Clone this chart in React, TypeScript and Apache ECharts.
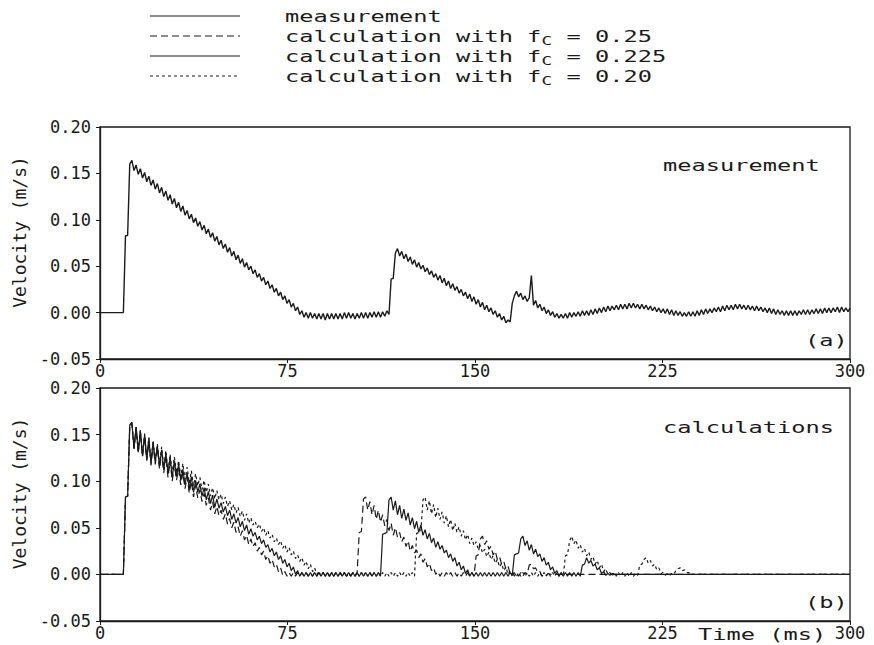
import React, { useEffect, useRef } from "react";
import * as echarts from "echarts";

// Sampling step of the velocity records (ms) and the end of the record.
const STEP_MS = 0.85;
const END_MS = 300;

// Axis ranges / ticks
const TIME_MIN = 0;
const TIME_MAX = 300;
const TIME_INTERVAL = 75;
const VEL_MIN = -0.05;
const VEL_MAX = 0.2;
const VEL_INTERVAL = 0.05;

// Measured velocity (m/s), one value every STEP_MS from t = 0.
const measurement = [
  0, 0, 0, 0, 0, 0, 0, 0, 0, 0,
  0, 0, 0.083, 0.083, 0.160, 0.164, 0.153, 0.159, 0.149, 0.155,
  0.145, 0.151, 0.141, 0.147, 0.137, 0.143, 0.133, 0.139, 0.129, 0.135,
  0.125, 0.131, 0.121, 0.127, 0.117, 0.123, 0.113, 0.119, 0.109, 0.115,
  0.105, 0.110, 0.101, 0.106, 0.097, 0.102, 0.093, 0.098, 0.089, 0.094,
  0.085, 0.090, 0.081, 0.086, 0.077, 0.082, 0.073, 0.078, 0.069, 0.074,
  0.065, 0.070, 0.061, 0.066, 0.057, 0.062, 0.053, 0.058, 0.049, 0.054,
  0.046, 0.050, 0.042, 0.046, 0.038, 0.042, 0.034, 0.038, 0.030, 0.034,
  0.026, 0.030, 0.022, 0.026, 0.018, 0.022, 0.014, 0.018, 0.010, 0.014,
  0.006, 0.010, 0.002, 0.006, -0.002, 0.002, -0.005, 0.000, -0.006, 0.000,
  -0.006, -0.001, -0.007, -0.001, -0.007, -0.001, -0.008, -0.001, -0.007, -0.001,
  -0.007, -0.001, -0.007, -0.001, -0.007, 0.000, -0.006, 0.000, -0.006, -0.001,
  -0.007, -0.001, -0.006, 0.000, -0.006, 0.000, -0.006, 0.000, -0.005, 0.001,
  -0.005, 0.001, -0.005, 0.001, -0.004, 0.002, -0.002, 0.036, 0.037, 0.064,
  0.069, 0.061, 0.066, 0.058, 0.063, 0.055, 0.060, 0.052, 0.057, 0.049,
  0.054, 0.047, 0.051, 0.044, 0.048, 0.041, 0.045, 0.038, 0.042, 0.035,
  0.040, 0.032, 0.037, 0.029, 0.034, 0.026, 0.031, 0.024, 0.028, 0.021,
  0.025, 0.018, 0.022, 0.015, 0.020, 0.012, 0.017, 0.009, 0.014, 0.006,
  0.011, 0.003, 0.008, 0.001, 0.005, -0.002, 0.002, -0.005, -0.001, -0.008,
  -0.004, -0.011, -0.008, -0.010, 0.010, 0.018, 0.023, 0.017, 0.021, 0.014,
  0.018, 0.012, 0.016, 0.040, 0.008, 0.013, 0.005, 0.009, 0.002, 0.006,
  -0.001, 0.003, -0.003, 0.001, -0.005, -0.001, -0.006, -0.002, -0.006, -0.001,
  -0.006, 0.000, -0.005, 0.000, -0.004, 0.001, -0.004, 0.002, -0.003, 0.002,
  -0.003, 0.003, -0.002, 0.004, -0.001, 0.005, 0.000, 0.006, 0.001, 0.007,
  0.002, 0.007, 0.003, 0.008, 0.003, 0.009, 0.004, 0.009, 0.004, 0.010,
  0.005, 0.010, 0.005, 0.009, 0.004, 0.009, 0.004, 0.008, 0.003, 0.007,
  0.002, 0.006, 0.001, 0.005, 0.000, 0.004, -0.001, 0.004, -0.002, 0.003,
  -0.003, 0.002, -0.003, 0.001, -0.004, 0.000, -0.004, 0.001, -0.004, 0.001,
  -0.004, 0.002, -0.003, 0.003, -0.002, 0.004, -0.001, 0.004, 0.000, 0.005,
  0.001, 0.006, 0.001, 0.007, 0.002, 0.008, 0.003, 0.008, 0.003, 0.009,
  0.004, 0.009, 0.004, 0.008, 0.003, 0.008, 0.003, 0.007, 0.002, 0.007,
  0.002, 0.006, 0.001, 0.005, 0.000, 0.005, -0.001, 0.004, -0.002, 0.003,
  -0.002, 0.002, -0.003, 0.002, -0.003, 0.002, -0.003, 0.002, -0.003, 0.002,
  -0.002, 0.003, -0.002, 0.003, -0.002, 0.003, -0.001, 0.004, -0.001, 0.004,
  -0.001, 0.005, 0.000, 0.005, 0.000, 0.005, 0.001, 0.006, 0.000, 0.006,
  0.001, 0.005, 0.001, 0.005,
];

// Calculated velocity, friction coefficient fc = 0.25 (m/s, every STEP_MS).
const calcFc025 = [
  0, 0, 0, 0, 0, 0, 0, 0, 0, 0,
  0, 0, 0.083, 0.084, 0.160, 0.163, 0.135, 0.158, 0.131, 0.153,
  0.126, 0.149, 0.122, 0.144, 0.117, 0.140, 0.118, 0.136, 0.113, 0.131,
  0.109, 0.127, 0.104, 0.122, 0.100, 0.118, 0.101, 0.113, 0.096, 0.109,
  0.092, 0.105, 0.087, 0.100, 0.083, 0.096, 0.082, 0.091, 0.078, 0.087,
  0.074, 0.082, 0.069, 0.078, 0.065, 0.073, 0.063, 0.069, 0.059, 0.065,
  0.054, 0.060, 0.050, 0.056, 0.045, 0.051, 0.041, 0.047, 0.037, 0.042,
  0.032, 0.038, 0.030, 0.034, 0.025, 0.029, 0.021, 0.025, 0.016, 0.020,
  0.012, 0.016, 0.008, 0.011, 0.003, 0.007, -0.001, 0.003, -0.002, 0.002,
  -0.002, 0.002, -0.002, 0.002, -0.002, 0.002, -0.002, 0.002, -0.002, 0.002,
  -0.002, 0.002, -0.002, 0.002, -0.002, 0.002, -0.002, 0.002, -0.002, 0.002,
  -0.002, 0.002, -0.002, 0.002, -0.002, 0.002, -0.002, 0.002, -0.002, 0.002,
  -0.002, 0.002, 0.045, 0.046, 0.081, 0.083, 0.069, 0.078, 0.064, 0.074,
  0.059, 0.069, 0.056, 0.064, 0.052, 0.059, 0.047, 0.055, 0.042, 0.050,
  0.040, 0.045, 0.035, 0.040, 0.030, 0.036, 0.025, 0.031, 0.023, 0.026,
  0.018, 0.022, 0.013, 0.017, 0.008, 0.012, 0.004, 0.007, 0.000, 0.003,
  -0.002, 0.002, -0.002, 0.002, -0.002, 0.002, -0.002, 0.002, -0.002, 0.002,
  -0.002, 0.002, -0.002, 0.002, -0.002, 0.002, -0.002, 0.020, 0.021, 0.038,
  0.041, 0.032, 0.036, 0.027, 0.030, 0.021, 0.025, 0.016, 0.019, 0.011,
  0.014, 0.006, 0.009, 0.001, 0.003, -0.002, 0.002, -0.002, 0.002, -0.002,
  0.002, 0.000, 0.010, 0.011, 0.006, 0.007, 0.002, 0.003, -0.002, 0.001,
  -0.001, 0.001, 0.000,
];

// Calculated velocity, fc = 0.225.
const calcFc0225 = [
  0, 0, 0, 0, 0, 0, 0, 0, 0, 0,
  0, 0, 0.083, 0.084, 0.160, 0.163, 0.135, 0.158, 0.131, 0.154,
  0.127, 0.150, 0.123, 0.146, 0.119, 0.142, 0.120, 0.138, 0.116, 0.134,
  0.112, 0.130, 0.108, 0.126, 0.104, 0.122, 0.105, 0.118, 0.101, 0.113,
  0.096, 0.109, 0.092, 0.105, 0.088, 0.101, 0.088, 0.097, 0.084, 0.093,
  0.080, 0.089, 0.076, 0.085, 0.072, 0.081, 0.071, 0.077, 0.067, 0.073,
  0.063, 0.069, 0.059, 0.065, 0.055, 0.061, 0.051, 0.057, 0.047, 0.053,
  0.043, 0.049, 0.041, 0.045, 0.037, 0.041, 0.033, 0.037, 0.029, 0.032,
  0.024, 0.028, 0.020, 0.024, 0.016, 0.020, 0.012, 0.016, 0.008, 0.012,
  0.004, 0.008, 0.000, 0.004, -0.002, 0.002, -0.002, 0.002, -0.002, 0.002,
  -0.002, 0.002, -0.002, 0.002, -0.002, 0.002, -0.002, 0.002, -0.002, 0.002,
  -0.002, 0.002, -0.002, 0.002, -0.002, 0.002, -0.002, 0.002, -0.002, 0.002,
  -0.002, 0.002, -0.002, 0.002, -0.002, 0.002, -0.002, 0.002, -0.002, 0.002,
  -0.002, 0.002, -0.002, 0.043, 0.044, 0.045, 0.080, 0.083, 0.069, 0.079,
  0.064, 0.074, 0.060, 0.070, 0.058, 0.066, 0.053, 0.061, 0.049, 0.057,
  0.045, 0.053, 0.042, 0.048, 0.038, 0.044, 0.034, 0.039, 0.029, 0.035,
  0.027, 0.031, 0.023, 0.026, 0.018, 0.022, 0.014, 0.018, 0.009, 0.013,
  0.005, 0.009, 0.001, 0.005, -0.002, 0.002, -0.002, 0.002, -0.002, 0.002,
  -0.002, 0.002, -0.002, 0.002, -0.002, 0.002, -0.002, 0.002, -0.002, 0.002,
  -0.002, 0.002, -0.002, 0.002, -0.001, 0.021, 0.022, 0.023, 0.038, 0.041,
  0.031, 0.036, 0.026, 0.032, 0.022, 0.027, 0.019, 0.022, 0.014, 0.018,
  0.010, 0.013, 0.005, 0.008, 0.001, 0.004, -0.002, 0.002, -0.002, 0.002,
  -0.002, 0.002, -0.002, 0.002, -0.002, 0.002, -0.002, 0.010, 0.011, 0.018,
  0.012, 0.015, 0.009, 0.011, 0.005, 0.007, 0.001, 0.003, -0.001, 0.001,
  -0.001, 0.001, 0.000,
];

// Calculated velocity, fc = 0.20.
const calcFc020 = [
  0, 0, 0, 0, 0, 0, 0, 0, 0, 0,
  0, 0, 0.083, 0.084, 0.160, 0.163, 0.135, 0.158, 0.131, 0.155,
  0.128, 0.151, 0.124, 0.147, 0.121, 0.144, 0.122, 0.140, 0.118, 0.137,
  0.115, 0.133, 0.111, 0.129, 0.108, 0.126, 0.109, 0.122, 0.105, 0.119,
  0.102, 0.115, 0.098, 0.111, 0.095, 0.108, 0.095, 0.104, 0.091, 0.101,
  0.088, 0.097, 0.084, 0.093, 0.081, 0.090, 0.080, 0.086, 0.076, 0.083,
  0.073, 0.079, 0.069, 0.075, 0.066, 0.072, 0.062, 0.068, 0.058, 0.065,
  0.055, 0.061, 0.053, 0.057, 0.050, 0.054, 0.046, 0.050, 0.042, 0.047,
  0.039, 0.043, 0.035, 0.039, 0.032, 0.036, 0.028, 0.032, 0.024, 0.029,
  0.021, 0.025, 0.017, 0.021, 0.014, 0.018, 0.010, 0.014, 0.006, 0.011,
  0.003, 0.007, 0.000, 0.003, -0.002, 0.002, -0.002, 0.002, -0.002, 0.002,
  -0.002, 0.002, -0.002, 0.002, -0.002, 0.002, -0.002, 0.002, -0.002, 0.002,
  -0.002, 0.002, -0.002, 0.002, -0.002, 0.002, -0.002, 0.002, -0.002, 0.002,
  -0.002, 0.002, -0.002, 0.002, -0.002, 0.002, -0.002, 0.002, -0.002, 0.002,
  -0.002, 0.002, -0.002, 0.002, -0.002, 0.002, -0.002, 0.002, -0.002, 0.044,
  0.045, 0.046, 0.080, 0.083, 0.069, 0.079, 0.065, 0.075, 0.061, 0.071,
  0.059, 0.067, 0.055, 0.063, 0.051, 0.059, 0.047, 0.055, 0.045, 0.051,
  0.041, 0.047, 0.037, 0.043, 0.033, 0.039, 0.031, 0.035, 0.027, 0.031,
  0.023, 0.027, 0.019, 0.024, 0.016, 0.020, 0.012, 0.016, 0.008, 0.012,
  0.004, 0.008, 0.000, 0.004, -0.002, 0.002, -0.002, 0.002, -0.002, 0.002,
  -0.002, 0.002, -0.002, 0.002, -0.002, 0.002, -0.002, 0.002, -0.002, 0.002,
  -0.002, 0.002, -0.002, 0.002, -0.002, 0.002, -0.002, 0.002, -0.002, 0.020,
  0.021, 0.036, 0.041, 0.033, 0.037, 0.028, 0.032, 0.024, 0.028, 0.020,
  0.024, 0.016, 0.019, 0.011, 0.015, 0.007, 0.011, 0.003, 0.006, 0.000,
  0.002, -0.002, 0.002, -0.002, 0.002, -0.002, 0.002, -0.002, 0.002, -0.002,
  0.002, -0.002, 0.001, -0.001, 0.010, 0.011, 0.016, 0.018, 0.012, 0.015,
  0.009, 0.011, 0.005, 0.007, 0.001, 0.002, -0.001, 0.001, -0.001, 0.001,
  0.000, 0.004, 0.006, 0.007, 0.004, 0.005, 0.002, 0.002, 0.000,
];

// Legend entries: label (rich text) and dash pattern of each curve.
const legendLabels = [
  "measurement",
  "calculation with f{sub|C} = 0.25",
  "calculation with f{sub|C} = 0.225",
  "calculation with f{sub|C} = 0.20",
];
const SOLID: number[] | null = null;
const LONG_DASH = [7, 4];
const SHORT_DASH = [3, 3];
const legendDashes = [SOLID, LONG_DASH, SOLID, SHORT_DASH];

const INK = "#1a1a1a";
const MONO = '"DejaVu Sans Mono", "Liberation Mono", monospace';

const toPoints = (vals: number[]) =>
  vals.map((v, i) => [Math.round(i * STEP_MS * 100) / 100, v]);

// Calculated curves stay at rest until the end of the record.
const withRest = (vals: number[]) => [...toPoints(vals), [END_MS, 0]];

const WIDE = 1.48; // horizontal stretch of the plotter lettering

function wideText(x: number, y: number, text: string, extra: any = {}) {
  return {
    type: "text",
    x,
    y,
    scaleX: WIDE,
    silent: true,
    style: {
      text,
      fill: INK,
      fontFamily: MONO,
      fontSize: 16,
      lineHeight: 22,
      verticalAlign: "middle",
      align: "left",
      rich: {
        sub: {
          fontFamily: MONO,
          fontSize: 12,
          lineHeight: 22,
          verticalAlign: "bottom",
          fill: INK,
        },
      },
      ...extra,
    },
  };
}

function buildOption() {
  const legendRowsY = [16, 36, 56, 76];
  const legendGraphics: any[] = [];
  legendLabels.forEach((label, k) => {
    const y = legendRowsY[k];
    legendGraphics.push({
      type: "line",
      silent: true,
      shape: { x1: 150, y1: y, x2: 240, y2: y },
      style: {
        stroke: INK,
        lineWidth: 1.2,
        lineDash: legendDashes[k] || undefined,
      },
    });
    legendGraphics.push(wideText(285, y, label));
  });

  const xAxisBase = {
    type: "value",
    min: TIME_MIN,
    max: TIME_MAX,
    interval: TIME_INTERVAL,
    axisLine: { show: true, onZero: false, lineStyle: { color: INK, width: 1.3 } },
    axisTick: { show: true, length: 4, lineStyle: { color: INK } },
    splitLine: { show: false },
    axisLabel: {
      margin: 3,
      color: INK,
      fontFamily: MONO,
      fontSize: 17,
    },
  };

  const yAxisBase = {
    type: "value",
    min: VEL_MIN,
    max: VEL_MAX,
    interval: VEL_INTERVAL,
    axisLine: { show: true, onZero: false, lineStyle: { color: INK, width: 1.3 } },
    axisTick: { show: true, length: 4, lineStyle: { color: INK } },
    splitLine: { show: false },
    axisLabel: {
      margin: 9,
      color: INK,
      fontFamily: MONO,
      fontSize: 17,
      formatter: (v: number) => v.toFixed(2),
    },
    name: "Velocity (m/s)",
    nameLocation: "middle",
    nameGap: 64,
    nameTextStyle: {
      color: INK,
      fontFamily: MONO,
      fontSize: 18,
      padding: [0, 0, 0, 22],
    },
  };

  const lineBase = {
    type: "line",
    showSymbol: false,
    symbol: "none",
    silent: true,
    clip: true,
  };

  return {
    animation: false,
    backgroundColor: "#ffffff",
    grid: [
      {
        left: 100,
        top: 127,
        width: 750,
        height: 232,
        show: true,
        borderColor: INK,
        borderWidth: 1.3,
        backgroundColor: "transparent",
      },
      {
        left: 100,
        top: 388,
        width: 750,
        height: 233,
        show: true,
        borderColor: INK,
        borderWidth: 1.3,
        backgroundColor: "transparent",
      },
    ],
    xAxis: [
      { ...xAxisBase, gridIndex: 0 },
      { ...xAxisBase, gridIndex: 1 },
    ],
    yAxis: [
      { ...yAxisBase, gridIndex: 0 },
      { ...yAxisBase, gridIndex: 1 },
    ],
    series: [
      {
        ...lineBase,
        name: "measurement",
        xAxisIndex: 0,
        yAxisIndex: 0,
        data: toPoints(measurement),
        lineStyle: { color: INK, width: 1.4 },
      },
      {
        ...lineBase,
        name: "calculation with fc = 0.25",
        xAxisIndex: 1,
        yAxisIndex: 1,
        data: withRest(calcFc025),
        lineStyle: { color: INK, width: 1.2, type: LONG_DASH },
      },
      {
        ...lineBase,
        name: "calculation with fc = 0.20",
        xAxisIndex: 1,
        yAxisIndex: 1,
        data: withRest(calcFc020),
        lineStyle: { color: INK, width: 1.2, type: SHORT_DASH },
      },
      {
        ...lineBase,
        name: "calculation with fc = 0.225",
        xAxisIndex: 1,
        yAxisIndex: 1,
        data: withRest(calcFc0225),
        lineStyle: { color: INK, width: 1.2 },
      },
    ],
    graphic: [
      ...legendGraphics,
      wideText(663, 165, "measurement"),
      wideText(663, 427, "calculations"),
      wideText(805, 340, "(a)"),
      wideText(805, 602, "(b)"),
      // time-axis title, set between the last two tick labels
      wideText(698, 634, "Time (ms)", { fontSize: 16 }),
    ],
  };
}

export default function App() {
  const ref = useRef<HTMLDivElement | null>(null);

  useEffect(() => {
    document.body.style.margin = "0";
    if (!ref.current) return;
    const chart = echarts.init(ref.current, undefined, { renderer: "svg" });
    chart.setOption(buildOption() as any);
    return () => {
      chart.dispose();
    };
  }, []);

  return (
    <div
      ref={ref}
      style={{ width: 874, height: 645, background: "#ffffff" }}
    />
  );
}
